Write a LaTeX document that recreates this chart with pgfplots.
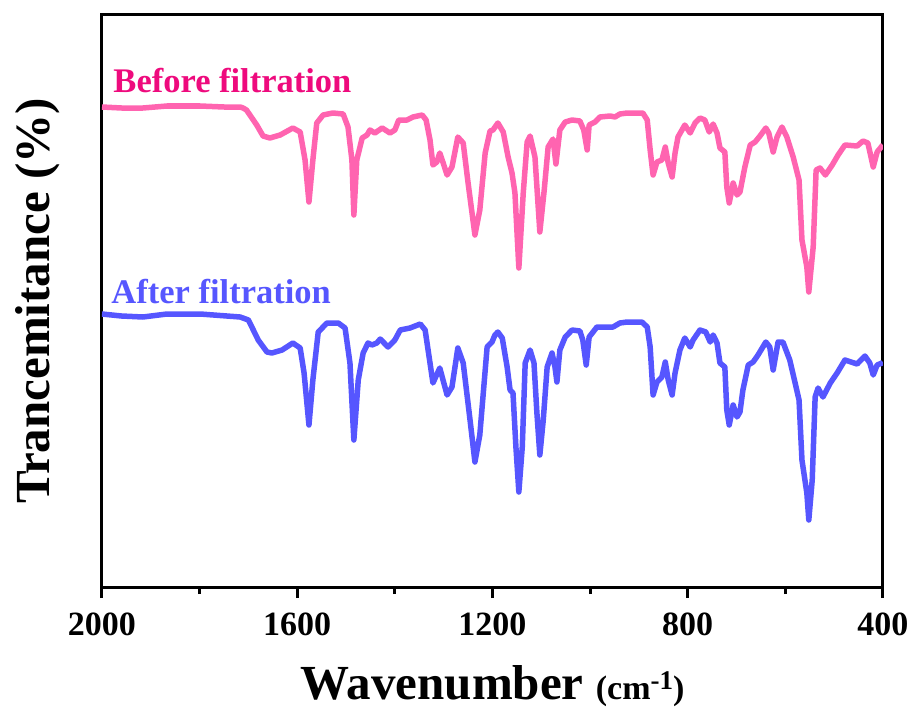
\documentclass[border=0pt]{standalone}
\usepackage{fontspec}
\setmainfont{Liberation Serif}
\usepackage{pgfplots}
\pgfplotsset{compat=1.18}
\definecolor{pinkline}{RGB}{255,100,176}
\definecolor{pinktext}{RGB}{238,10,125}
\definecolor{blueline}{RGB}{86,86,255}
\definecolor{bluetext}{RGB}{86,86,255}
\begin{document}
\begin{tikzpicture}
% canvas in px-like points: axis box is 781 x 572
\useasboundingbox (-102pt,-126pt) rectangle (813pt,587pt);
\begin{axis}[
  at={(0,0)}, anchor=south west,
  scale only axis, width=781pt, height=572pt,
  x dir=reverse, xmin=400, xmax=2000, ymin=0, ymax=572,
  line width=3pt,
  xtick={2000,1600,1200,800,400},
  xticklabels={2000,1600,1200,800,400},
  minor xtick={1800,1400,1000,600},
  xtick pos=left, ytick=\empty,
  tick align=outside,
  major tick length=11pt, minor tick length=7pt,
  tick style={line width=3pt, black},
  xticklabel style={anchor=north, inner sep=0pt, yshift=-13pt},
  every tick label/.append style={font=\bfseries\fontsize{34}{40}\selectfont},
  /pgf/number format/assume math mode=true,
  label style={font=\bfseries},
  xlabel={\fontsize{49}{54}\selectfont Wavenumber {\fontsize{34}{38}\selectfont (cm\raisebox{10pt}{\fontsize{27}{30}\selectfont -1})}},
  xlabel style={at={(axis description cs:0.5,0)}, anchor=base, yshift=-112pt},
  ylabel={\fontsize{49}{55}\selectfont Trancemitance (\%)},
  ylabel style={at={(axis description cs:-0.0666,0.5)}, anchor=base},
]
\addplot[pinkline, line width=5.5pt, line join=round] coordinates {
(2000,480) (1960,479) (1916,479) (1867,481) (1799,481) (1750,480) (1717,480) (1711,479) (1704,477) (1683,462) (1670,451) (1656,449) (1635,452) (1609,459) (1594,455) (1584,427) (1576,385) (1568,427) (1560,464) (1547,472) (1527,474) (1506,473) (1496,460) (1488,427) (1484,372) (1478,427) (1467,449) (1457,452) (1451,457) (1441,454) (1426,459) (1410,454) (1400,457) (1392,467) (1375,467) (1363,470) (1344,472) (1336,467) (1328,447) (1322,422) (1314,425) (1308,434) (1301,424) (1293,412) (1283,420) (1271,450) (1260,444) (1250,404) (1236,352) (1226,377) (1215,434) (1205,456) (1199,457) (1189,464) (1178,455) (1168,430) (1160,414) (1154,394) (1146,319) (1137,394) (1129,445) (1123,451) (1113,430) (1103,355) (1094,397) (1086,440) (1076,448) (1070,423) (1062,457) (1051,465) (1037,467) (1021,466) (1013,457) (1006,437) (1002,462) (990,465) (980,470) (959,471) (949,470) (939,473) (924,474) (892,474) (883,467) (877,437) (871,412) (863,425) (853,427) (846,440) (840,424) (832,410) (826,434) (820,450) (806,462) (795,454) (785,464) (775,469) (765,467) (756,455) (748,463) (740,454) (734,439) (724,435) (720,400) (715,384) (707,404) (699,392) (693,395) (683,420) (672,442) (662,445) (652,451) (640,459) (634,454) (625,435) (617,450) (607,460) (597,450) (584,430) (572,407) (566,347) (556,320) (552,295) (543,340) (537,417) (529,419) (518,412) (504,422) (492,432) (478,442) (453,441) (441,446) (431,444) (420,420) (412,435) (402,441) (400,442)
};
\addplot[blueline, line width=5.5pt, line join=round] coordinates {
(2000,273) (1960,271) (1916,270) (1867,273) (1799,273) (1717,270) (1700,267) (1680,247) (1662,235) (1652,234) (1631,237) (1609,244) (1594,239) (1586,214) (1576,162) (1568,207) (1557,255) (1539,264) (1516,264) (1502,259) (1492,224) (1484,147) (1475,207) (1465,234) (1455,244) (1447,242) (1437,244) (1430,248) (1414,240) (1400,247) (1389,257) (1369,259) (1348,263) (1338,257) (1328,224) (1322,204) (1308,219) (1293,192) (1283,200) (1271,239) (1260,224) (1246,167) (1236,125) (1226,152) (1211,240) (1201,245) (1195,252) (1189,255) (1180,249) (1170,220) (1164,197) (1158,194) (1152,140) (1146,95) (1139,140) (1133,224) (1123,237) (1115,224) (1109,174) (1103,132) (1096,167) (1088,220) (1078,234) (1072,220) (1068,205) (1062,237) (1051,250) (1037,257) (1021,256) (1015,247) (1008,222) (1002,250) (986,260) (965,260) (953,260) (939,264) (924,265) (894,265) (883,260) (877,240) (871,192) (863,205) (853,210) (846,225) (840,207) (832,192) (826,214) (816,237) (806,249) (795,240) (789,247) (775,257) (763,255) (754,245) (748,252) (740,244) (734,224) (724,220) (720,177) (715,162) (707,182) (699,170) (693,175) (687,197) (676,222) (666,225) (656,232) (640,245) (632,240) (625,217) (615,245) (605,245) (591,227) (580,204) (572,187) (566,127) (556,94) (552,67) (545,107) (539,190) (533,199) (523,190) (508,204) (494,214) (478,227) (453,223) (437,231) (427,224) (420,212) (412,222) (402,224) (400,225)
};
\node[anchor=base west, inner sep=0pt, text=pinktext, font=\bfseries\fontsize{34.5}{40}\selectfont] at (axis cs:1979.5,494) {Before filtration};
\node[anchor=base west, inner sep=0pt, text=bluetext, font=\bfseries\fontsize{34.5}{40}\selectfont] at (axis cs:1983.6,284) {After filtration};
\end{axis}
\end{tikzpicture}
\end{document}
